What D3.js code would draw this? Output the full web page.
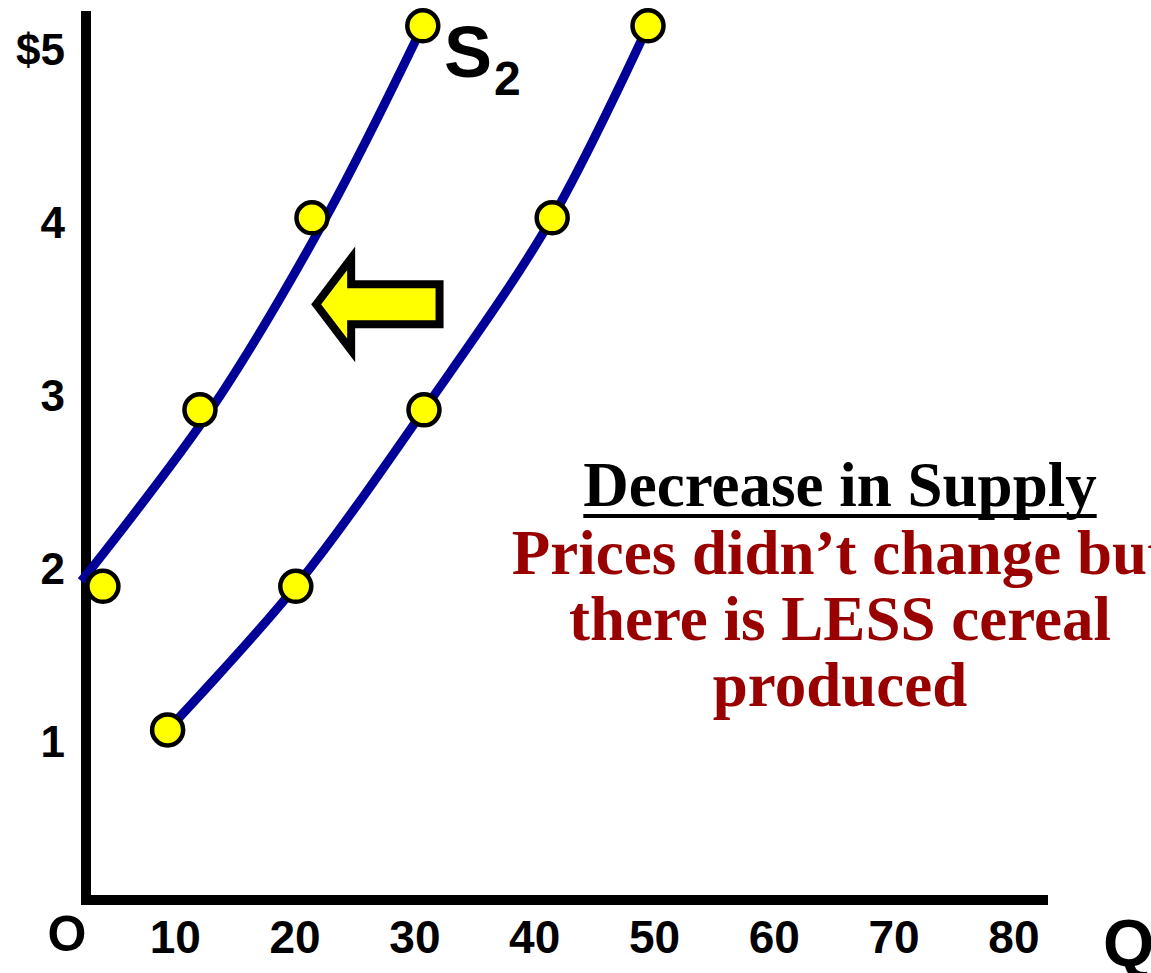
<!DOCTYPE html>
<html><head><meta charset="utf-8">
<script src="https://cdn.jsdelivr.net/npm/d3@7"></script>
<style>html,body{margin:0;padding:0;background:#fff;overflow:hidden}svg{display:block}</style>
</head><body>
<script>
// ---- data ----
const xTicks = [10, 20, 30, 40, 50, 60, 70, 80];
const yTicks = [1, 2, 3, 4, 5];
const yTickLabels = ["1", "2", "3", "4", "$5"];
// original supply S1 (right curve)
const s1Q = [9.4, 20.1, 30.8, 41.5, 49.5];
const s1P = [1.07, 1.90, 2.92, 4.03, 5.14];
// decreased supply S2 (left curve)
const s2Q = [4.0, 12.1, 21.45, 30.7];
const s2P = [1.90, 2.92, 4.03, 5.14];
// S2 drawn line knots
const s2LineQ = [2.2, 13.0, 22.6, 30.7];
const s2LineP = [1.93, 2.92, 4.03, 5.14];
// shift arrow (tip, tail, price level)
const arrowQ = [21.8, 32.1];
const arrowP = 3.53;
const titleText = "Decrease in Supply";
const noteLines = ["Prices didn\u2019t change but", "there is LESS cereal", "produced"];

const W = 1151, H = 973;
const svg = d3.select("body").append("svg").attr("width", W).attr("height", H);

const x = d3.scaleLinear().domain([0, 80]).range([55, 1013.4]);
const y = d3.scaleLinear().domain([1, 5]).range([742, 50]);

const sans = "'Liberation Sans', Arial, Helvetica, sans-serif";
const serif = "'Liberation Serif', 'Times New Roman', serif";

// axes lines
svg.append("line").attr("x1", 86).attr("x2", 86).attr("y1", 11).attr("y2", 905)
  .attr("stroke", "#000").attr("stroke-width", 10);
svg.append("line").attr("x1", 81).attr("x2", 1048).attr("y1", 900).attr("y2", 900)
  .attr("stroke", "#000").attr("stroke-width", 10);

// x tick labels
const xAxis = svg.append("g").attr("transform", "translate(0,920)")
  .call(d3.axisBottom(x).tickValues(xTicks).tickSize(0).tickPadding(0));
xAxis.select(".domain").remove();
xAxis.selectAll("text").attr("font-family", sans).attr("font-weight", "bold")
  .attr("font-size", 46).attr("fill", "#000").attr("dy", "0.71em");

// y tick labels
const yAxis = svg.append("g").attr("transform", "translate(65,0)")
  .call(d3.axisLeft(y).tickValues(yTicks).tickSize(0).tickPadding(0)
    .tickFormat((d, i) => yTickLabels[i]));
yAxis.select(".domain").remove();
yAxis.selectAll("text").attr("font-family", sans).attr("font-weight", "bold")
  .attr("font-size", 44).attr("fill", "#000");

// O and Q
svg.append("text").attr("x", 67).attr("y", 951).attr("text-anchor", "middle")
  .attr("font-family", sans).attr("font-weight", "bold").attr("font-size", 50).text("O");
svg.append("text").attr("x", 1103).attr("y", 966)
  .attr("font-family", sans).attr("font-weight", "bold").attr("font-size", 66).text("Q");

// curves
const line = d3.line().x(d => x(d[0])).y(d => y(d[1])).curve(d3.curveCatmullRom.alpha(0.5));
const s1 = s1Q.map((q, i) => [q, s1P[i]]);
const s2 = s2Q.map((q, i) => [q, s2P[i]]);
const s2Line = s2LineQ.map((q, i) => [q, s2LineP[i]]);
svg.append("path").attr("d", line(s2Line)).attr("fill", "none")
  .attr("stroke", "#000099").attr("stroke-width", 9).attr("stroke-linecap", "butt");
svg.append("path").attr("d", line(s1)).attr("fill", "none")
  .attr("stroke", "#000099").attr("stroke-width", 9).attr("stroke-linecap", "butt");

// points
svg.selectAll("circle.pt").data(s1.concat(s2)).enter().append("circle")
  .attr("class", "pt").attr("cx", d => x(d[0])).attr("cy", d => y(d[1])).attr("r", 15.5)
  .attr("fill", "#ffff00").attr("stroke", "#000").attr("stroke-width", 4.5);

// S2 label
const lab = svg.append("text").attr("x", 444).attr("y", 77)
  .attr("font-family", sans).attr("font-weight", "bold").attr("fill", "#000");
lab.append("tspan").attr("font-size", 72).text("S");
lab.append("tspan").attr("font-size", 48).attr("dy", 18).attr("dx", 2).text("2");

// arrow
const tipX = x(arrowQ[0]), tailX = x(arrowQ[1]), ay = y(arrowP);
const headLen = 35, headHalf = 46, shaftHalf = 20;
const arrowPts = [
  [tipX, ay], [tipX + headLen, ay - headHalf], [tipX + headLen, ay - shaftHalf],
  [tailX, ay - shaftHalf], [tailX, ay + shaftHalf], [tipX + headLen, ay + shaftHalf],
  [tipX + headLen, ay + headHalf]
];
svg.append("polygon").attr("points", arrowPts.map(p => p.join(",")).join(" "))
  .attr("fill", "#ffff00").attr("stroke", "#000").attr("stroke-width", 8)
  .attr("stroke-linejoin", "miter");

// annotation text
const cx = 840;
const title = svg.append("text").attr("x", cx).attr("y", 506).attr("text-anchor", "middle")
  .attr("font-family", serif).attr("font-weight", "bold").attr("font-size", 63)
  .attr("fill", "#000").text(titleText);
const tw = title.node().getComputedTextLength();
svg.append("line").attr("x1", cx - tw / 2).attr("x2", cx + tw / 2)
  .attr("y1", 516).attr("y2", 516).attr("stroke", "#000").attr("stroke-width", 4);
svg.selectAll("text.note").data(noteLines).enter().append("text").attr("class", "note")
  .attr("x", cx).attr("y", (d, i) => 574 + i * 66).attr("text-anchor", "middle")
  .attr("font-family", serif).attr("font-weight", "bold").attr("font-size", 63)
  .attr("fill", "#990000").text(d => d);
</script>
</body></html>
